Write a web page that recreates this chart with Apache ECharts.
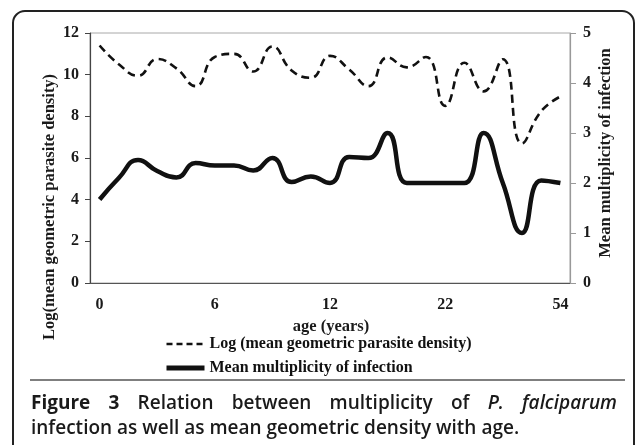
<!DOCTYPE html>
<html><head><meta charset="utf-8">
<script src="https://cdn.jsdelivr.net/npm/echarts@6/dist/echarts.min.js"></script>
<style>html,body{margin:0;padding:0;background:#fff}#c{width:635px;height:445px}</style>
</head><body><div id="c"></div>
<script>
// ---- data ----
const categories = ['0','1','2','3','4','5','6','7','8','9','10','11','12','13','14','15','16','17','22','25','28','32','38','45','54'];
const logDensity = [11.4, 10.5, 9.95, 10.75, 10.3, 9.45, 10.85, 11.0, 10.15, 11.35, 10.2, 9.85, 10.9, 10.25, 9.45, 10.83, 10.35, 10.85, 8.5, 10.57, 9.2, 10.74, 6.7, 8.25, 8.95];
const meanMOI = [1.67, 2.1, 2.46, 2.24, 2.11, 2.4, 2.35, 2.35, 2.25, 2.5, 2.02, 2.13, 2.0, 2.52, 2.5, 3.0, 2.0, 2.0, 2.0, 2.0, 3.0, 2.0, 1.0, 2.05, 2.0];
const leftTicks = {min: 0, max: 12, interval: 2};
const rightTicks = {min: 0, max: 5, interval: 1};
const seriesNames = ['Log (mean geometric parasite density)', 'Mean multiplicity of infection'];
const leftTitle = 'Log(mean geometric parasite density)';
const rightTitle = 'Mean multiplicity of infection';
const xTitle = 'age (years)';
const captionLine1 = [['Figure', 'b'], ['3', 'b'], ['Relation', 'n'], ['between', 'n'], ['multiplicity', 'n'], ['of', 'n'], ['P.', 'i'], ['falciparum', 'i']];
const captionLine2 = 'infection as well as mean geometric density with age.';

// ---- chart ----
const serif = '"Liberation Serif", "Times New Roman", serif';
const sans = '"Open Sans", "Noto Sans", sans-serif';
const capSize = 19;
const ctx = document.createElement('canvas').getContext('2d');
function fontStr(kind) {
  const w = kind === 'b' ? 'bold' : '600';
  const st = kind === 'i' ? 'italic ' : '';
  return st + w + ' ' + capSize + 'px ' + sans;
}
const capLeft = 31, capRight = 617;
let widths = captionLine1.map(([t, k]) => { ctx.font = fontStr(k); return ctx.measureText(t).width; });
const totalW = widths.reduce((a, b) => a + b, 0);
const gap = (capRight - capLeft - totalW) / (captionLine1.length - 1);
const captionEls = [];
let cx = capLeft;
captionLine1.forEach(([t, k], i) => {
  captionEls.push({type: 'text', x: cx, y: 404, silent: true,
    style: {text: t, font: fontStr(k), fill: '#1a1a1a', align: 'left', verticalAlign: 'middle'}});
  cx += widths[i] + gap;
});
captionEls.push({type: 'text', x: capLeft, y: 429, silent: true,
  style: {text: captionLine2, font: fontStr('n'), fill: '#1a1a1a', align: 'left', verticalAlign: 'middle'}});

const chart = echarts.init(document.getElementById('c'), null, {renderer: 'canvas'});
const labelStyle = {fontFamily: serif, fontWeight: 'bold', fontSize: 16, color: '#1a1a1a'};
chart.setOption({
  animation: false,
  backgroundColor: '#fff',
  grid: {left: 90, right: 65, top: 33, bottom: 162, show: true, borderColor: '#a8a8a8', borderWidth: 1, containLabel: false, outerBoundsMode: 'none'},
  legend: {
    orient: 'vertical', left: 159, top: 331, itemWidth: 38, itemHeight: 14, itemGap: 8,
    itemStyle: {opacity: 0, color: 'transparent', borderWidth: 0},
    textStyle: {fontFamily: serif, fontWeight: 'bold', fontSize: 16, color: '#111'},
    data: [
      {name: seriesNames[0], lineStyle: {width: 2.6, type: [6, 4]}},
      {name: seriesNames[1], lineStyle: {width: 5}}
    ]
  },
  xAxis: {
    type: 'category', data: categories, boundaryGap: true,
    axisLine: {lineStyle: {color: '#555', width: 1.2}},
    axisTick: {interval: 0, length: 5, lineStyle: {color: '#555'}},
    axisLabel: Object.assign({interval: 5, margin: 14}, labelStyle),
    splitLine: {show: false}
  },
  yAxis: [
    {type: 'value', min: leftTicks.min, max: leftTicks.max, interval: leftTicks.interval, position: 'left',
     axisLine: {show: true, lineStyle: {color: '#444', width: 1.2}},
     axisTick: {show: true, length: 5, lineStyle: {color: '#444'}},
     axisLabel: Object.assign({margin: 11}, labelStyle),
     splitLine: {show: false}},
    {type: 'value', min: rightTicks.min, max: rightTicks.max, interval: rightTicks.interval, position: 'right',
     axisLine: {show: true, lineStyle: {color: '#999', width: 1.2}},
     axisTick: {show: true, length: 6, lineStyle: {color: '#999'}},
     axisLabel: Object.assign({margin: 13}, labelStyle),
     splitLine: {show: false}}
  ],
  series: [
    {name: seriesNames[0], type: 'line', yAxisIndex: 0, data: logDensity, smooth: 0.5, symbol: 'none',
     lineStyle: {color: '#111', width: 2.6, type: [8, 5]}, itemStyle: {color: '#111'}},
    {name: seriesNames[1], type: 'line', yAxisIndex: 1, data: meanMOI, smooth: 0.5, symbol: 'none',
     lineStyle: {color: '#111', width: 4.5}, itemStyle: {color: '#111'}}
  ],
  graphic: [
    {type: 'rect', silent: true, z: -10, shape: {x: 13, y: 11, width: 621, height: 470, r: 12},
     style: {fill: 'none', stroke: '#222', lineWidth: 2}},
    {type: 'line', silent: true, shape: {x1: 30, y1: 380, x2: 625, y2: 380},
     style: {stroke: '#555', lineWidth: 1.5}},
    {type: 'text', x: 50, y: 207, rotation: Math.PI / 2, silent: true,
     style: {text: leftTitle, font: 'bold 16.5px ' + serif, fill: '#1a1a1a', align: 'center', verticalAlign: 'middle'}},
    {type: 'text', x: 606, y: 153, rotation: Math.PI / 2, silent: true,
     style: {text: rightTitle, font: 'bold 16.5px ' + serif, fill: '#1a1a1a', align: 'center', verticalAlign: 'middle'}},
    {type: 'text', x: 331, y: 327, silent: true,
     style: {text: xTitle, font: 'bold 16.5px ' + serif, fill: '#1a1a1a', align: 'center', verticalAlign: 'middle'}}
  ].concat(captionEls)
});
</script>
</body></html>
